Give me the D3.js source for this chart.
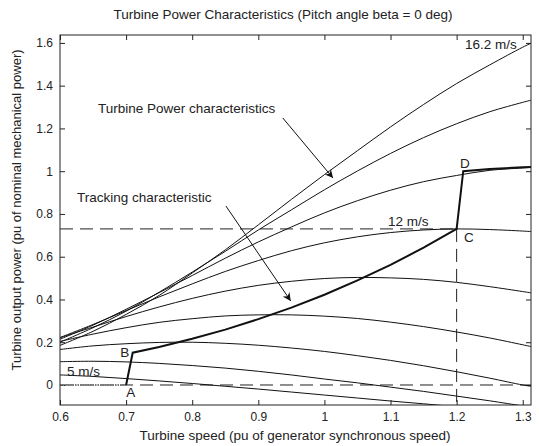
<!DOCTYPE html>
<html>
<head>
<meta charset="utf-8">
<style>
body { margin: 0; background: #fff; }
svg { display: block; font-family: "Liberation Sans", Arial, sans-serif; }
.axis text { font-size: 12px; fill: #222; }
.axis line { stroke: #222; }
.axis path { display: none; }
</style>
</head>
<body>
<svg width="539" height="446"></svg>
<script src="https://d3js.org/d3.v7.min.js"></script>
<script>
// turbine speed grid (pu of generator synchronous speed)
var speed = [0.6, 0.65, 0.7, 0.75, 0.8, 0.85, 0.9, 0.95, 1.0, 1.05, 1.1, 1.15, 1.2, 1.25, 1.3, 1.315];

// turbine output power (pu) for each wind speed
var p16_2 = [0.185, 0.251, 0.330, 0.419, 0.524, 0.632, 0.749, 0.868, 0.984, 1.096, 1.207, 1.312, 1.410, 1.497, 1.580, 1.602];
var p14_8 = [0.200, 0.268, 0.345, 0.434, 0.528, 0.625, 0.725, 0.819, 0.913, 1.001, 1.083, 1.157, 1.222, 1.278, 1.322, 1.334];
var p13_4 = [0.214, 0.280, 0.354, 0.432, 0.512, 0.593, 0.669, 0.739, 0.805, 0.862, 0.911, 0.951, 0.980, 1.004, 1.015, 1.018];
var p12   = [0.222, 0.283, 0.348, 0.412, 0.473, 0.531, 0.582, 0.628, 0.665, 0.693, 0.713, 0.725, 0.730, 0.727, 0.720, 0.717];
var p10_6 = [0.221, 0.271, 0.320, 0.365, 0.405, 0.439, 0.466, 0.485, 0.498, 0.503, 0.501, 0.494, 0.480, 0.460, 0.437, 0.430];
var p9_2  = [0.204, 0.238, 0.268, 0.293, 0.310, 0.323, 0.328, 0.328, 0.322, 0.311, 0.294, 0.273, 0.248, 0.220, 0.188, 0.178];
var p7_8  = [0.166, 0.183, 0.193, 0.199, 0.200, 0.195, 0.186, 0.173, 0.157, 0.137, 0.115, 0.090, 0.062, 0.032, 0.000, -0.007];
var p6_4  = [0.109, 0.111, 0.108, 0.101, 0.091, 0.079, 0.064, 0.047, 0.028, 0.010, -0.010, -0.030, -0.052, -0.074, -0.098, -0.105];
var p5    = [0.047, 0.040, 0.030, 0.019, 0.007, -0.006, -0.019, -0.033, -0.047, -0.061, -0.075, -0.088, -0.102, -0.116, -0.130, -0.134];
var curves = [p16_2, p14_8, p13_4, p12, p10_6, p9_2, p7_8, p6_4, p5];

// tracking characteristic A-B-C-D
var trackSpeed = [0.7, 0.71, 0.75, 0.8, 0.85, 0.9, 0.95, 1.0, 1.05, 1.1, 1.15, 1.2, 1.21, 1.25, 1.3, 1.315];
var trackPower = [0.0, 0.151, 0.178, 0.216, 0.259, 0.308, 0.362, 0.422, 0.489, 0.562, 0.642, 0.730, 1.000, 1.010, 1.018, 1.020];
var zeroSpeed = [0.6, 0.7];
var zeroPower = [0.0, 0.0];

var xTicks = [0.6, 0.7, 0.8, 0.9, 1.0, 1.1, 1.2, 1.3];
var yTicks = [0, 0.2, 0.4, 0.6, 0.8, 1.0, 1.2, 1.4, 1.6];

var svg = d3.select("svg");
var mLeft = 60, mRight = 531, mTop = 35, mBottom = 405;

var x = d3.scaleLinear().domain([0.6, 1.3125]).range([mLeft, mRight]);
var y = d3.scaleLinear().domain([-0.0936, 1.637]).range([mBottom, mTop]);

var defs = svg.append("defs");
defs.append("clipPath").attr("id", "plot")
  .append("rect").attr("x", mLeft).attr("y", mTop)
  .attr("width", mRight - mLeft).attr("height", mBottom - mTop);

// title and axis labels
svg.append("text").attr("x", 283).attr("y", 19)
  .attr("text-anchor", "middle").attr("font-size", 13.5).attr("fill", "#222")
  .text("Turbine Power Characteristics (Pitch angle beta = 0 deg)");
svg.append("text").attr("x", 295).attr("y", 440)
  .attr("text-anchor", "middle").attr("font-size", 13.5).attr("fill", "#222")
  .text("Turbine speed (pu of generator synchronous speed)");
svg.append("text").attr("transform", "translate(21," + 210 + ") rotate(-90)")
  .attr("text-anchor", "middle").attr("font-size", 13).attr("fill", "#222")
  .text("Turbine output power (pu of nominal mechanical power)");

// axes with inward ticks all round
var fmt = d3.format("~g");
svg.append("g").attr("class", "axis").attr("transform", "translate(0," + mBottom + ")")
  .call(d3.axisBottom(x).tickValues(xTicks).tickFormat(fmt).tickSize(-5).tickPadding(7));
svg.append("g").attr("class", "axis").attr("transform", "translate(0," + mTop + ")")
  .call(d3.axisTop(x).tickValues(xTicks).tickFormat("").tickSize(-5));
svg.append("g").attr("class", "axis").attr("transform", "translate(" + mLeft + ",0)")
  .call(d3.axisLeft(y).tickValues(yTicks).tickFormat(fmt).tickSize(-5).tickPadding(7));
svg.append("g").attr("class", "axis").attr("transform", "translate(" + mRight + ",0)")
  .call(d3.axisRight(y).tickValues(yTicks).tickFormat("").tickSize(-5));

var plot = svg.append("g").attr("clip-path", "url(#plot)");

// dashed reference lines through C and at zero
plot.append("line").attr("x1", x(0.6)).attr("x2", x(1.2)).attr("y1", y(0.73)).attr("y2", y(0.73))
  .attr("stroke", "#222").attr("stroke-dasharray", "13,7");
plot.append("line").attr("x1", x(1.2)).attr("x2", x(1.2)).attr("y1", y(0.73)).attr("y2", y(-0.1))
  .attr("stroke", "#222").attr("stroke-dasharray", "13,7");
plot.append("line").attr("x1", x(0.6)).attr("x2", x(1.3125)).attr("y1", y(0)).attr("y2", y(0))
  .attr("stroke", "#222").attr("stroke-dasharray", "13,7");

var line = d3.line()
  .x(function(d) { return x(d[0]); })
  .y(function(d) { return y(d[1]); })
  .curve(d3.curveCatmullRom);

plot.selectAll("path.curve")
  .data(curves)
  .enter().append("path")
    .attr("class", "curve")
    .attr("d", function(c) { return line(speed.map(function(s, i) { return [s, c[i]]; })); })
    .attr("fill", "none")
    .attr("stroke", "#111")
    .attr("stroke-width", 1);

// tracking characteristic
var straight = d3.line().x(function(d) { return x(d[0]); }).y(function(d) { return y(d[1]); });
plot.append("path")
  .attr("d", straight(zeroSpeed.map(function(s, i) { return [s, zeroPower[i]]; })))
  .attr("fill", "none").attr("stroke", "#777").attr("stroke-width", 2.2).attr("stroke-dasharray", "1.5,1");
plot.append("path")
  .attr("d", straight(trackSpeed.map(function(s, i) { return [s, trackPower[i]]; })))
  .attr("fill", "none").attr("stroke", "#111").attr("stroke-width", 2);

// box
svg.append("rect").attr("x", mLeft).attr("y", mTop)
  .attr("width", mRight - mLeft).attr("height", mBottom - mTop)
  .attr("fill", "none").attr("stroke", "#222");

// annotations (data coordinates)
var labelText = ["16.2 m/s", "Turbine Power characteristics", "Tracking characteristic", "12 m/s", "5 m/s", "A", "B", "C", "D"];
var labelX = [1.291, 0.6575, 0.6257, 1.096, 0.6106, 0.707, 0.698, 1.211, 1.205];
var labelY = [1.572, 1.273, 0.856, 0.742, 0.040, -0.056, 0.131, 0.669, 1.015];
var labelAnchor = ["end", "start", "start", "start", "start", "middle", "middle", "start", "start"];

svg.selectAll("text.note")
  .data(labelText)
  .enter().append("text")
    .attr("class", "note")
    .attr("x", function(d, i) { return x(labelX[i]); })
    .attr("y", function(d, i) { return y(labelY[i]); })
    .attr("text-anchor", function(d, i) { return labelAnchor[i]; })
    .attr("font-size", 13.5)
    .attr("fill", "#222")
    .text(function(d) { return d; });

// arrows
var arrowFrom = [[0.937, 1.249], [0.851, 0.837]];
var arrowTo = [[1.013, 0.968], [0.949, 0.393]];

defs.append("marker")
  .attr("id", "head").attr("viewBox", "0 0 10 10").attr("refX", 10).attr("refY", 5)
  .attr("markerWidth", 10).attr("markerHeight", 8).attr("markerUnits", "userSpaceOnUse")
  .attr("orient", "auto")
  .append("path").attr("d", "M0,0L10,5L0,10L3,5Z").attr("fill", "#111");

svg.selectAll("line.arrow")
  .data(arrowFrom)
  .enter().append("line")
    .attr("class", "arrow")
    .attr("x1", function(d) { return x(d[0]); })
    .attr("y1", function(d) { return y(d[1]); })
    .attr("x2", function(d, i) { return x(arrowTo[i][0]); })
    .attr("y2", function(d, i) { return y(arrowTo[i][1]); })
    .attr("stroke", "#111")
    .attr("marker-end", "url(#head)");
</script>
</body>
</html>
